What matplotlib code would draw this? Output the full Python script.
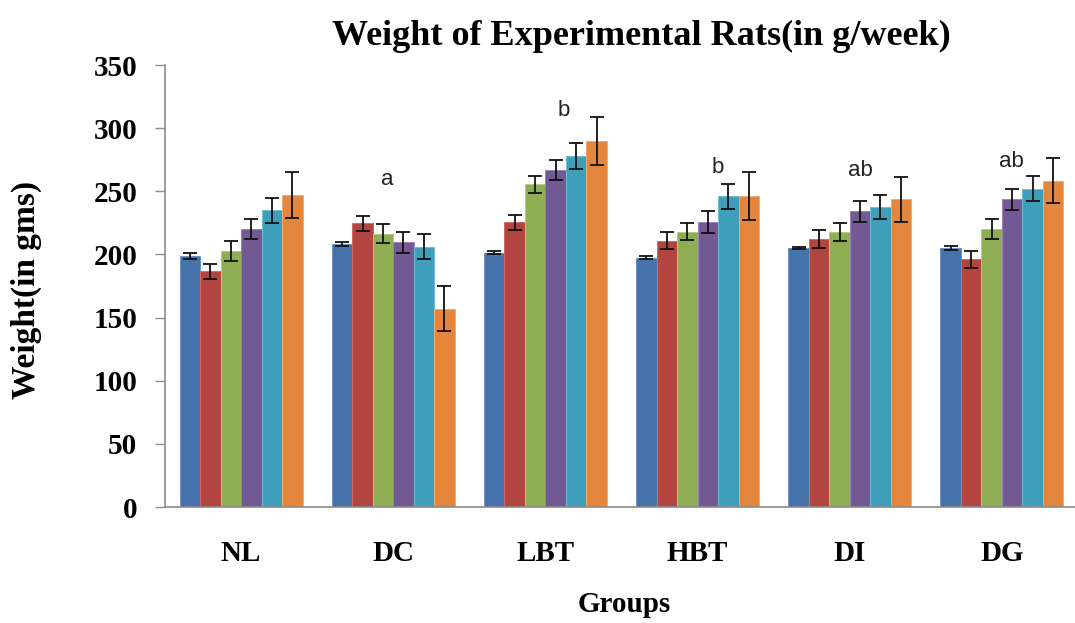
import numpy as np
import matplotlib
matplotlib.use('Agg')
import matplotlib.pyplot as plt

# mean body weight (g) per group, one value per week
groups = ['NL', 'DC', 'LBT', 'HBT', 'DI', 'DG']
nl_w  = [199.0, 186.5, 203.0, 220.0, 235.0, 247.0]
dc_w  = [208.0, 224.5, 216.5, 209.5, 206.0, 157.0]
lbt_w = [201.5, 225.5, 255.5, 267.0, 278.0, 289.5]
hbt_w = [197.5, 211.0, 218.0, 225.5, 246.0, 246.0]
di_w  = [205.0, 212.0, 218.0, 234.0, 237.5, 243.5]
dg_w  = [205.0, 196.0, 220.0, 243.5, 252.0, 258.5]

# standard error for each bar
nl_e  = [2.5, 6.0, 8.0, 8.0, 10.0, 18.0]
dc_e  = [1.5, 6.0, 7.5, 8.0, 10.0, 18.0]
lbt_e = [1.5, 6.0, 7.0, 8.0, 10.0, 19.0]
hbt_e = [1.0, 7.0, 6.5, 8.5, 10.0, 19.0]
di_e  = [1.0, 7.0, 7.0, 8.5, 9.5, 18.0]
dg_e  = [1.5, 6.5, 8.0, 8.5, 10.0, 17.5]

sig_letters = ['', 'a', 'b', 'b', 'ab', 'ab']

weights = np.array([nl_w, dc_w, lbt_w, hbt_w, di_w, dg_w])
errors = np.array([nl_e, dc_e, lbt_e, hbt_e, di_e, dg_e])

colors = ['#4672AA', '#B4443F', '#8FAD52', '#745A95', '#3F9EB9', '#E5863D']
edge = ['#6d93c6', '#cf6b67', '#b2cc7e', '#9a82b8', '#74bfd3', '#f2ab70']

serif = 'Liberation Serif'

fig = plt.figure(figsize=(10.75, 6.23), dpi=100)
ax = fig.add_axes([165/1075, 116/623, 913/1075, 442/623])

n_series = weights.shape[1]
bw = 0.808 / n_series
x = np.arange(len(groups))
for k in range(n_series):
    xs = x - 0.404 + bw*(k + 0.5)
    ax.bar(xs, weights[:, k], width=bw, color=colors[k], edgecolor=edge[k], linewidth=0.7)
    ax.errorbar(xs, weights[:, k], yerr=errors[:, k], fmt='none', ecolor='#111111',
                elinewidth=1.3, capsize=5, capthick=1.3)

# significance letters above groups
sig_x = [0, 0.96, 2.12, 3.13, 4.07, 5.06]
sig_y = [0, 259.5, 314, 269, 266.5, 273.5]
for i in range(len(groups)):
    if sig_letters[i]:
        ax.text(sig_x[i], sig_y[i], sig_letters[i], ha='center', va='center',
                fontsize=16, family='Liberation Sans', color='#222222')

ax.set_xlim(-0.5, 5.5)
ax.set_ylim(0, 350)
ax.set_yticks(np.arange(0, 351, 50))
ax.set_xticks(x)
ax.set_xticklabels(groups, fontsize=21, fontweight='bold', family=serif)
for lab in ax.get_yticklabels():
    lab.set_fontsize(21)
    lab.set_fontweight('bold')
    lab.set_family(serif)

ax.spines['top'].set_visible(False)
ax.spines['right'].set_visible(False)
for s in ['left', 'bottom']:
    ax.spines[s].set_color('#8c8c8c')
    ax.spines[s].set_linewidth(1.2)
ax.tick_params(axis='y', direction='out', length=7, width=1, color='#8c8c8c', pad=13)
ax.tick_params(axis='x', length=0, pad=24)

fig.text(641/1075, 1 - 36/623, 'Weight of Experimental Rats(in g/week)', ha='center', va='center',
         fontsize=26, fontweight='bold', family=serif)
fig.text(624/1075, 1 - 605/623, 'Groups', ha='center', va='center',
         fontsize=21, fontweight='bold', family=serif)
fig.text(26/1075, 1 - 290/623, 'Weight(in gms)', ha='center', va='center', rotation=90,
         fontsize=24, fontweight='bold', family=serif)

fig.savefig('out.png', dpi=100)
